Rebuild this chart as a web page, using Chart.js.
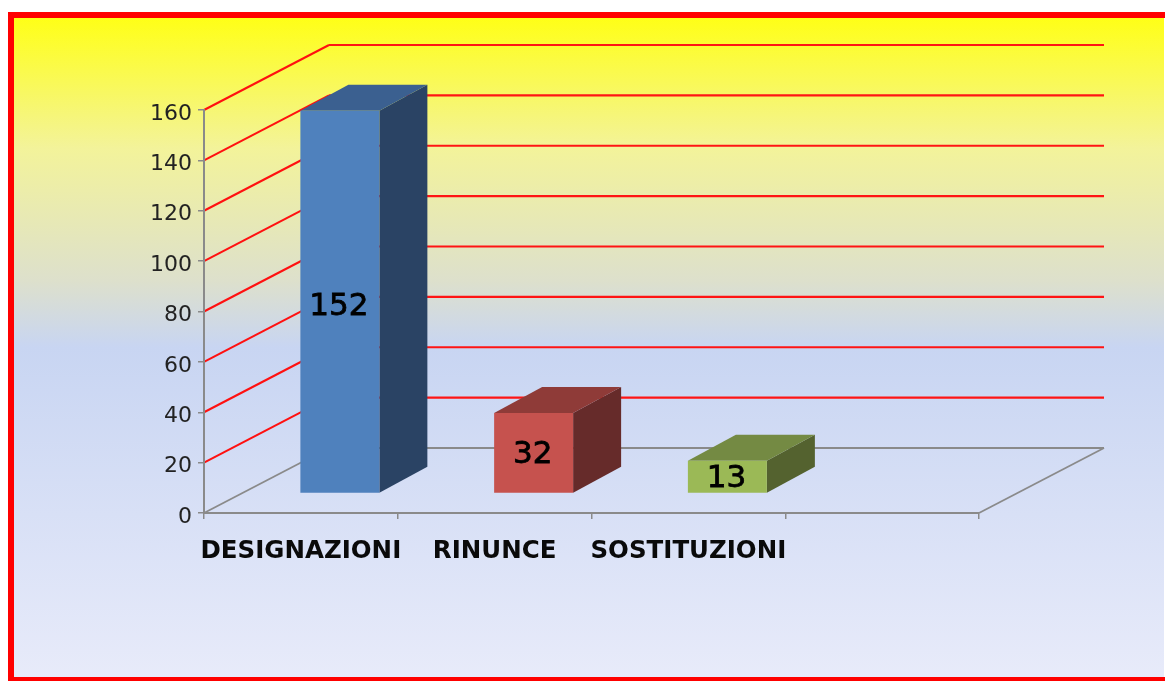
<!DOCTYPE html>
<html>
<head>
<meta charset="utf-8">
<style>
html,body{margin:0;padding:0;background:#fff;overflow:hidden}
#wrap{position:absolute;left:0;top:0;width:1165px;height:681px}
canvas{display:block;filter:blur(0.5px)}
</style>
<script src="https://cdn.jsdelivr.net/npm/chart.js@4/dist/chart.umd.min.js"></script>
</head>
<body>
<div id="wrap"><canvas id="c" width="1165" height="681"></canvas></div>
<script>
const categories = ['DESIGNAZIONI', 'RINUNCE', 'SOSTITUZIONI', ''];
const values = [152, 32, 13, null];
const frontColors = ['#4f81bd', '#c6524e', '#9bb956', '#000'];
const sideColors = ['#2a4364', '#662b2a', '#54622f', '#000'];
const topColors = ['#3b6090', '#8f3b38', '#748a43', '#000'];
const yMax = 160;
const yStep = 20;

// 3D projection offsets (px)
const WALL = {dx: 125, dy: -65};
const BAR_SHIFT = {dx: 39, dy: -19.5};
const BAR_DEPTH = {dx: 48, dy: -26};
const LABEL_NUDGE = [5, 2, 2, 0];

function line(ctx, x1, y1, x2, y2, color, w) {
  ctx.beginPath(); ctx.moveTo(x1, y1); ctx.lineTo(x2, y2);
  ctx.strokeStyle = color; ctx.lineWidth = w; ctx.stroke();
}
function poly(ctx, pts, color) {
  ctx.beginPath();
  pts.forEach((p, i) => i ? ctx.lineTo(p[0], p[1]) : ctx.moveTo(p[0], p[1]));
  ctx.closePath(); ctx.fillStyle = color; ctx.fill();
}

const frame3d = {
  id: 'frame3d',
  beforeDraw(chart) {
    const ctx = chart.ctx;
    ctx.save();
    ctx.fillStyle = '#fff';
    ctx.fillRect(0, 0, 1165, 681);
    const g = ctx.createLinearGradient(0, 15, 0, 680);
    g.addColorStop(0, '#ffff14');
    g.addColorStop(0.2, '#f3f39a');
    g.addColorStop(0.4, '#dde0cc');
    g.addColorStop(0.5, '#c8d5f2');
    g.addColorStop(1, '#e8ebfa');
    ctx.fillStyle = g;
    ctx.fillRect(11, 15, 1153, 664);
    ctx.strokeStyle = '#ff0000';
    ctx.lineWidth = 6;
    ctx.beginPath();
    ctx.moveTo(11, 680); ctx.lineTo(11, 15); ctx.lineTo(1165, 15);
    ctx.stroke();
    ctx.lineWidth = 5;
    ctx.beginPath(); ctx.moveTo(8, 679.5); ctx.lineTo(1165, 679.5); ctx.stroke();
    ctx.restore();

    // walls
    const y = chart.scales.y, x = chart.scales.x;
    ctx.save();
    ctx.lineCap = 'butt';
    for (let v = yStep; v <= yMax; v += yStep) {
      const py = y.getPixelForValue(v);
      line(ctx, x.left, py, x.left + WALL.dx, py + WALL.dy, '#ff1010', 2);
      line(ctx, x.left + WALL.dx, py + WALL.dy, x.right + WALL.dx, py + WALL.dy, '#ff1414', 2.2);
    }
    const p0 = y.getPixelForValue(0);
    line(ctx, x.left, p0, x.left + WALL.dx, p0 + WALL.dy, '#8a8a8a', 1.8);
    line(ctx, x.left + WALL.dx, p0 + WALL.dy, x.right + WALL.dx, p0 + WALL.dy, '#8a8a8a', 2);
    line(ctx, x.right, p0, x.right + WALL.dx, p0 + WALL.dy, '#8a8a8a', 1.8);
    ctx.restore();
  },
  beforeDatasetsDraw(chart) {
    const ctx = chart.ctx;
    const meta = chart.getDatasetMeta(0);
    meta.data.forEach((b, i) => {
      if (values[i] == null) return;
      const l = b.x - b.width / 2 + BAR_SHIFT.dx, r = b.x + b.width / 2 + BAR_SHIFT.dx;
      const t = b.y + BAR_SHIFT.dy, u = b.base + BAR_SHIFT.dy;
      const d = BAR_DEPTH;
      poly(ctx, [[r, t], [r + d.dx, t + d.dy], [r + d.dx, u + d.dy], [r, u]], sideColors[i]);
      poly(ctx, [[l, t], [l + d.dx, t + d.dy], [r + d.dx, t + d.dy], [r, t]], topColors[i]);
    });
    ctx.save();
    ctx.translate(BAR_SHIFT.dx, BAR_SHIFT.dy);
  },
  afterDatasetsDraw(chart) {
    const ctx = chart.ctx;
    ctx.restore();
    const meta = chart.getDatasetMeta(0);
    ctx.save();
    ctx.font = '31px "DejaVu Sans"';
    ctx.fillStyle = '#000';
    ctx.strokeStyle = '#000';
    ctx.lineWidth = 0.8;
    ctx.textAlign = 'center';
    ctx.textBaseline = 'middle';
    meta.data.forEach((b, i) => {
      if (values[i] == null) return;
      const cy = (b.y + b.base) / 2 + BAR_SHIFT.dy + LABEL_NUDGE[i];
      const tx = b.x + BAR_SHIFT.dx - 1;
      ctx.fillText(String(values[i]), tx, cy);
      ctx.strokeText(String(values[i]), tx, cy);
    });
    ctx.restore();
  }
};

new Chart(document.getElementById('c'), {
  type: 'bar',
  plugins: [frame3d],
  data: {
    labels: categories,
    datasets: [{
      data: values,
      backgroundColor: frontColors,
      borderWidth: 0,
      barPercentage: 0.9,
      categoryPercentage: 0.453,
      clip: false
    }]
  },
  options: {
    responsive: false,
    animation: false,
    layout: {padding: {top: 110, right: 186, left: 0, bottom: 0}},
    plugins: {legend: {display: false}, title: {display: false}, tooltip: {enabled: false}},
    scales: {
      x: {
        offset: true,
        afterFit(s) { s.height = 168; },
        border: {color: '#8a8a8a', width: 2},
        grid: {display: true, offset: true, drawOnChartArea: false, drawTicks: true, tickLength: 6, color: '#8a8a8a', lineWidth: 1.5},
        ticks: {
          color: '#0a0a0a',
          padding: 18,
          maxRotation: 0,
          autoSkip: false,
          font: {family: '"DejaVu Sans"', size: 24.5, weight: 'bold'}
        }
      },
      y: {
        min: 0,
        max: yMax,
        afterFit(s) { s.width = 204; },
        border: {color: '#8a8a8a', width: 2},
        grid: {display: true, drawOnChartArea: false, drawTicks: true, tickLength: 6, color: '#8a8a8a', lineWidth: 1.5},
        ticks: {
          stepSize: yStep,
          color: '#222',
          padding: 6,
          labelOffset: 4,
          font: {family: '"DejaVu Sans"', size: 22}
        }
      }
    }
  }
});
</script>
</body>
</html>
